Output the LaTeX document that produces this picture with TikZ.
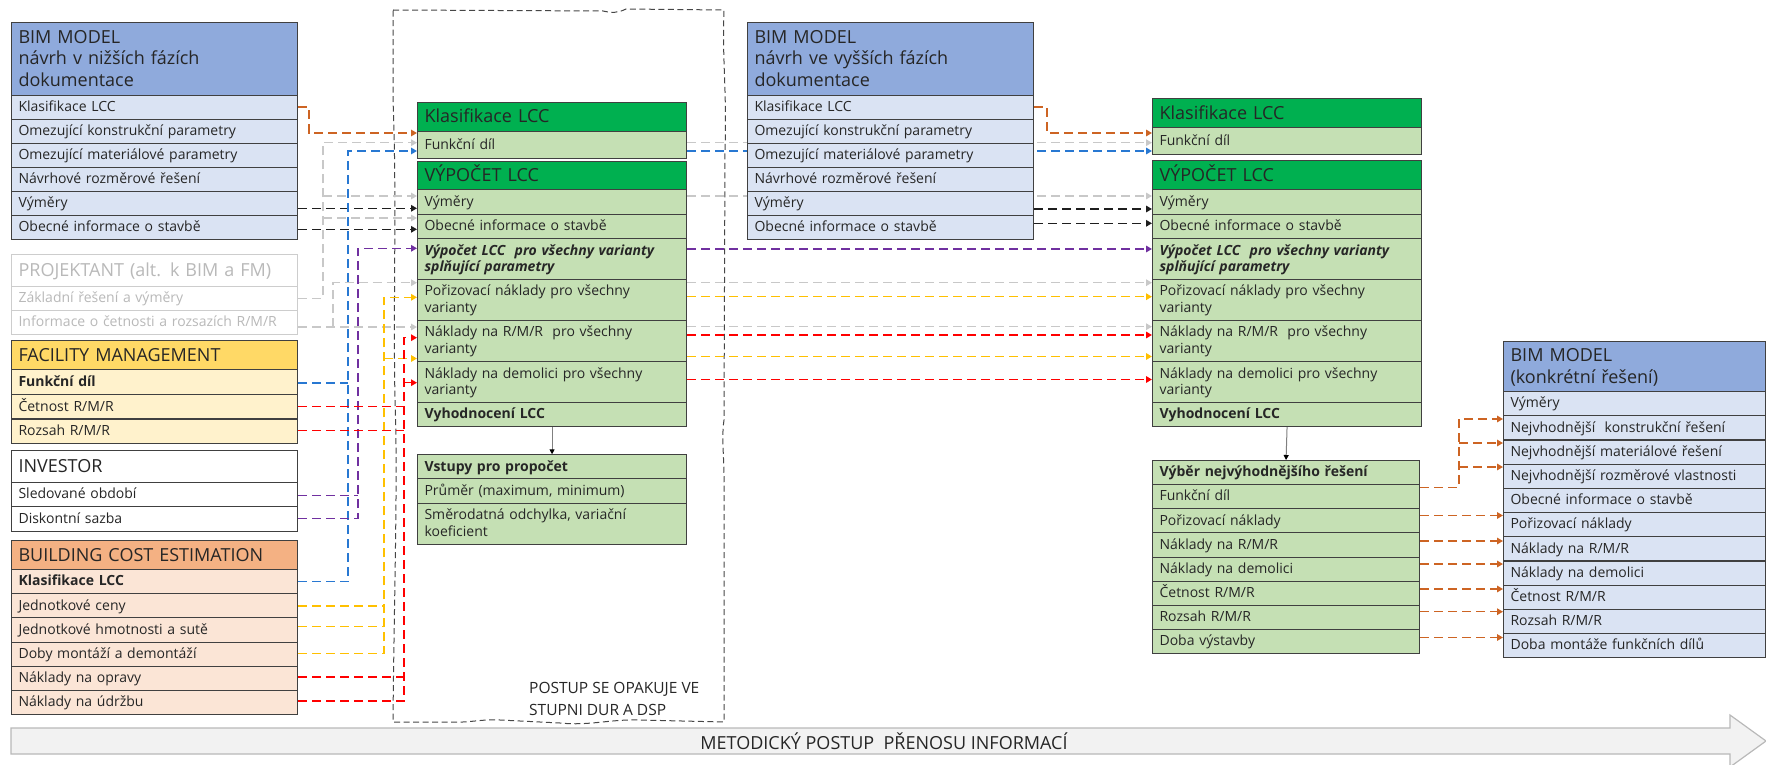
\documentclass[tikz,border=0pt]{standalone}
\usepackage{fontspec}
\setmainfont{Open Sans}
\usetikzlibrary{arrows.meta,backgrounds}

\definecolor{bimhead}{RGB}{143,170,220}
\definecolor{bimrow}{RGB}{218,227,243}
\definecolor{ghead}{RGB}{0,176,80}
\definecolor{grow}{RGB}{197,224,180}
\definecolor{fmhead}{RGB}{255,217,102}
\definecolor{fmrow}{RGB}{255,242,204}
\definecolor{bcehead}{RGB}{244,177,131}
\definecolor{bcerow}{RGB}{251,229,214}
\definecolor{boxline}{RGB}{64,64,64}
\definecolor{ink}{RGB}{38,38,38}
\definecolor{projline}{RGB}{205,205,205}
\definecolor{projtext}{RGB}{185,185,185}
\definecolor{framec}{RGB}{70,70,70}
\definecolor{bandfill}{RGB}{242,242,242}
\definecolor{bandline}{RGB}{185,185,185}
\definecolor{cOr}{RGB}{205,100,35}
\definecolor{cGr}{RGB}{200,200,200}
\definecolor{cBl}{RGB}{40,120,210}
\definecolor{cPu}{RGB}{112,48,160}
\definecolor{cYe}{RGB}{255,192,0}
\definecolor{cRe}{RGB}{255,0,0}
\definecolor{cBk}{RGB}{30,30,30}

\newcommand\bodyf{\fontsize{14}{16.5}\selectfont}
\newcommand\headf{\fontsize{18}{21.7}\selectfont}
\newcommand\notef{\fontsize{15.5}{21.7}\selectfont}
\newcommand\bandf{\fontsize{18}{21.7}\selectfont}

\begin{document}
\begin{tikzpicture}[x=1pt,y=-1pt,
  base/.style={draw=boxline, line width=1.1pt, anchor=north west, inner xsep=7pt,
    inner ysep=0pt, align=left, text=ink},
  cell/.style={base, font=\bodyf,
    execute at begin node={\rule{0pt}{12.5pt}},
    execute at end node={\rule[-3.9pt]{0pt}{3.9pt}}},
  hd/.style={base, font=\headf,
    execute at begin node={\rule{0pt}{16.1pt}},
    execute at end node={\rule[-3.9pt]{0pt}{3.9pt}}},
  colL/.style={minimum width=286pt, text width=272pt},
  colG/.style={minimum width=269pt, text width=255pt},
  colS/.style={minimum width=267pt, text width=253pt},
  colK/.style={minimum width=262pt, text width=248pt},
  bimH/.style={hd, colL, fill=bimhead},
  bimR/.style={cell, colL, fill=bimrow},
  projH/.style={hd, colL, fill=white, draw=projline, text=projtext},
  projR/.style={cell, colL, fill=white, draw=projline, text=projtext},
  fmH/.style={hd, colL, fill=fmhead},
  fmR/.style={cell, colL, fill=fmrow},
  invH/.style={hd, colL, fill=white},
  invR/.style={cell, colL, fill=white},
  bceH/.style={hd, colL, fill=bcehead},
  bceR/.style={cell, colL, fill=bcerow},
  gH/.style={hd, colG, fill=ghead},
  gR/.style={cell, colG, fill=grow},
  sR/.style={cell, colS, fill=grow},
  kH/.style={hd, colK, fill=bimhead},
  kR/.style={cell, colK, fill=bimrow},
  con/.style={line width=1.5pt, dash pattern=on 9pt off 5pt},
  tip/.style={-{Triangle[length=6pt,width=6.5pt]}},
  vline/.style={draw=gray, line width=1pt, -{Triangle[length=5pt,width=5pt,color=black]}},
  framepath/.style={draw=framec, line width=1pt, dash pattern=on 6pt off 3.5pt},
]
\useasboundingbox (0,0) rectangle (1766,765);

% ---------- methodical flow band ----------
\draw[fill=bandfill, draw=bandline, line width=1.2pt]
  (11,728) -- (1730,728) -- (1730,715) -- (1766,741) -- (1730,767) -- (1730,754) -- (11,754) -- cycle;
\node[font=\bandf, text=ink] (band) at (884,741) {METODICKÝ POSTUP\ \ PŘENOSU INFORMACÍ};

% ---------- repeated stage frame ----------
\draw[framepath] (393,10) -- (603,11) .. controls (612,13) and (618,13) .. (626,9) -- (724,10)
  .. controls (722,60) and (727,90) .. (725,150) -- (724,420)
  .. controls (721,440) and (725,460) .. (724,500) -- (724,722)
  -- (640,720) .. controls (610,719) and (590,726) .. (560,723)
  -- (500,720) .. controls (480,719) and (470,723) .. (450,722) -- (393,722)
  .. controls (394,600) and (398,480) .. (395,400)
  .. controls (393,300) and (397,200) .. (393,100) -- cycle;
\node[font=\notef, text=ink, align=left, anchor=north west, inner sep=0pt] (postup) at (529,682)
  {POSTUP SE OPAKUJE VE\\STUPNI DUR A DSP};

% ---------- left column: sources ----------
\node[bimH, minimum height=72.7pt] (lbH) at (11,22) {BIM MODEL\\návrh v nižších fázích\\dokumentace};
\node[bimR, minimum height=24pt] (lbK)  at (11,94.7)  {Klasifikace LCC};
\node[bimR, minimum height=24pt] (lbKo) at (11,118.7) {Omezující konstrukční parametry};
\node[bimR, minimum height=24pt] (lbM)  at (11,142.7) {Omezující materiálové parametry};
\node[bimR, minimum height=24pt] (lbN)  at (11,166.7) {Návrhové rozměrové řešení};
\node[bimR, minimum height=24pt] (lbV)  at (11,190.7) {Výměry};
\node[bimR, minimum height=24pt] (lbO)  at (11,214.7) {Obecné informace o stavbě};

\node[projH, minimum height=32pt] (lpH) at (11,254) {PROJEKTANT (alt. k BIM a FM)};
\node[projR, minimum height=24pt] (lpZ) at (11,286) {Základní řešení a výměry};
\node[projR, minimum height=24pt] (lpI) at (11,310) {Informace o četnosti a rozsazích R/M/R};

\node[fmH, minimum height=29pt]   (lfH) at (11,340)   {FACILITY MANAGEMENT};
\node[fmR, minimum height=24.7pt] (lfF) at (11,369)   {\textbf{Funkční díl}};
\node[fmR, minimum height=24.7pt] (lfC) at (11,393.7) {Četnost R/M/R};
\node[fmR, minimum height=24.7pt] (lfR) at (11,418.4) {Rozsah R/M/R};

\node[invH, minimum height=31.7pt] (liH) at (11,450)   {INVESTOR};
\node[invR, minimum height=24.5pt] (liS) at (11,481.7) {Sledované období};
\node[invR, minimum height=24.5pt] (liD) at (11,506.2) {Diskontní sazba};

\node[bceH, minimum height=29pt]    (lcH)  at (11,540)    {BUILDING COST ESTIMATION};
\node[bceR, minimum height=24.17pt] (lcK)  at (11,569)    {\textbf{Klasifikace LCC}};
\node[bceR, minimum height=24.17pt] (lcJ)  at (11,593.17) {Jednotkové ceny};
\node[bceR, minimum height=24.17pt] (lcJh) at (11,617.33) {Jednotkové hmotnosti a sutě};
\node[bceR, minimum height=24.17pt] (lcDm) at (11,641.5)  {Doby montáží a demontáží};
\node[bceR, minimum height=24.17pt] (lcO)  at (11,665.67) {Náklady na opravy};
\node[bceR, minimum height=24.17pt] (lcU)  at (11,689.83) {Náklady na údržbu};

% ---------- first LCC calculation ----------
\node[gH, minimum height=29pt] (mgH) at (417,101.7) {Klasifikace LCC};
\node[gR, minimum height=27pt] (mgF) at (417,130.7) {Funkční díl};
\node[gH, minimum height=28.6pt] (mvH) at (417,160.7) {VÝPOČET LCC};
\node[gR, minimum height=24.7pt] (mvV) at (417,189.3) {Výměry};
\node[gR, minimum height=24pt]   (mvO) at (417,214)   {Obecné informace o stavbě};
\node[gR, minimum height=41pt]   (mvX) at (417,238)   {{\bfseries\itshape Výpočet LCC\ \ pro všechny varianty\\splňující parametry}};
\node[gR, minimum height=40.7pt] (mvP) at (417,279)   {Pořizovací náklady pro všechny\\varianty};
\node[gR, minimum height=41.3pt] (mvR) at (417,319.7) {Náklady na R/M/R\ \ pro všechny\\varianty};
\node[gR, minimum height=41pt]   (mvD) at (417,361)   {Náklady na demolici pro všechny\\varianty};
\node[gR, minimum height=24pt]   (mvE) at (417,402)   {\textbf{Vyhodnocení LCC}};

\node[gR, minimum height=24pt]   (msH) at (417,454.3) {\textbf{Vstupy pro propočet}};
\node[gR, minimum height=24.4pt] (msA) at (417,478.3) {Průměr (maximum, minimum)};
\node[gR, minimum height=41pt]   (msB) at (417,502.7) {Směrodatná odchylka, variační\\koeficient};

% ---------- BIM model, later design stages ----------
\node[bimH, minimum height=72.7pt] (mbH) at (747,22) {BIM MODEL\\návrh ve vyšších fázích\\dokumentace};
\node[bimR, minimum height=24pt] (mbK)  at (747,94.7)  {Klasifikace LCC};
\node[bimR, minimum height=24pt] (mbKo) at (747,118.7) {Omezující konstrukční parametry};
\node[bimR, minimum height=24pt] (mbM)  at (747,142.7) {Omezující materiálové parametry};
\node[bimR, minimum height=24pt] (mbN)  at (747,166.7) {Návrhové rozměrové řešení};
\node[bimR, minimum height=24pt] (mbV)  at (747,190.7) {Výměry};
\node[bimR, minimum height=24pt] (mbO)  at (747,214.7) {Obecné informace o stavbě};

% ---------- second LCC calculation ----------
\node[gH, minimum height=29pt] (rgH) at (1152,98.3)  {Klasifikace LCC};
\node[gR, minimum height=27pt] (rgF) at (1152,127.3) {Funkční díl};
\node[gH, minimum height=29pt]   (rvH) at (1152,160.3) {VÝPOČET LCC};
\node[gR, minimum height=24.7pt] (rvV) at (1152,189.3) {Výměry};
\node[gR, minimum height=24pt]   (rvO) at (1152,214)   {Obecné informace o stavbě};
\node[gR, minimum height=41pt]   (rvX) at (1152,238)   {{\bfseries\itshape Výpočet LCC\ \ pro všechny varianty\\splňující parametry}};
\node[gR, minimum height=40.7pt] (rvP) at (1152,279)   {Pořizovací náklady pro všechny\\varianty};
\node[gR, minimum height=41.3pt] (rvR) at (1152,319.7) {Náklady na R/M/R\ \ pro všechny\\varianty};
\node[gR, minimum height=41pt]   (rvD) at (1152,361)   {Náklady na demolici pro všechny\\varianty};
\node[gR, minimum height=24pt]   (rvE) at (1152,402)   {\textbf{Vyhodnocení LCC}};

\node[sR, minimum height=24pt]    (rsH) at (1152,460)    {\textbf{Výběr nejvýhodnějšího řešení}};
\node[sR, minimum height=24.17pt] (rsF) at (1152,484)    {Funkční díl};
\node[sR, minimum height=24.17pt] (rsP) at (1152,508.17) {Pořizovací náklady};
\node[sR, minimum height=24.17pt] (rsR) at (1152,532.33) {Náklady na R/M/R};
\node[sR, minimum height=24.17pt] (rsD) at (1152,556.5)  {Náklady na demolici};
\node[sR, minimum height=24.17pt] (rsC) at (1152,580.67) {Četnost R/M/R};
\node[sR, minimum height=24.17pt] (rsZ) at (1152,604.83) {Rozsah R/M/R};
\node[sR, minimum height=24.17pt] (rsB) at (1152,629)    {Doba výstavby};

% ---------- BIM model, chosen solution ----------
\node[kH, minimum height=50.3pt] (rkH) at (1503,340.7) {BIM MODEL\\(konkrétní řešení)};
\node[kR, minimum height=24.2pt] (rk1)  at (1503,391)   {Výměry};
\node[kR, minimum height=24.2pt] (rk2)  at (1503,415.2) {Nejvhodnější\ \ konstrukční řešení};
\node[kR, minimum height=24.2pt] (rk3)  at (1503,439.4) {Nejvhodnější materiálové řešení};
\node[kR, minimum height=24.2pt] (rk4)  at (1503,463.6) {Nejvhodnější rozměrové vlastnosti};
\node[kR, minimum height=24.2pt] (rk5)  at (1503,487.8) {Obecné informace o stavbě};
\node[kR, minimum height=24.2pt] (rk6)  at (1503,512)   {Pořizovací náklady};
\node[kR, minimum height=24.2pt] (rk7)  at (1503,536.2) {Náklady na R/M/R};
\node[kR, minimum height=24.2pt] (rk8)  at (1503,560.4) {Náklady na demolici};
\node[kR, minimum height=24.2pt] (rk9)  at (1503,584.6) {Četnost R/M/R};
\node[kR, minimum height=24.2pt] (rk10) at (1503,608.8) {Rozsah R/M/R};
\node[kR, minimum height=24.2pt] (rk11) at (1503,633)   {Doba montáže funkčních dílů};

% ---------- junction points ----------
\coordinate (oL) at (309,133);
\coordinate (gA) at (323,142.7);
\coordinate (gA2) at (323,196);
\coordinate (gA3) at (323,218);
\coordinate (gB) at (333,327);
\coordinate (bJ) at (348,151);
\coordinate (bJ2) at (348,383);
\coordinate (pJ) at (358,248.3);
\coordinate (pJ2) at (358,495.7);
\coordinate (yJ) at (384,297.3);
\coordinate (yJ2) at (384,358.5);
\coordinate (yJ3) at (384,606);
\coordinate (yJ4) at (384,626.7);
\coordinate (rJ) at (404,337.7);
\coordinate (rJ2) at (404,382.7);
\coordinate (rJ3) at (404,406.7);
\coordinate (rJ4) at (404,430.5);
\coordinate (rJ5) at (404,677);
\coordinate (oR) at (1047,133);
\coordinate (oK) at (1459,419);
\coordinate (oK2) at (1459,443);
\coordinate (oK3) at (1459,467);

% ---------- connectors running behind the BIM model box ----------
\begin{scope}[on background layer]
\draw[con, cGr, tip] (mgF.east |- gA) -- (rgF.west |- gA);
\draw[con, cBl, tip] (mgF.east |- bJ) -- (rgF.west |- bJ);
\draw[con, cGr, tip] (mvV.east |- gA2) -- (rvV.west |- gA2);
\end{scope}

% ---------- connectors into the first calculation ----------
\draw[con, cOr, tip] (lbK.east) -| (oL) -- (mgF.west |- oL);
\draw[con, cGr, tip] (lpZ.east) -| (gA) -- (mgF.west |- gA);
\draw[con, cGr, tip] (gA2) -- (mvV.west |- gA2);
\draw[con, cGr, tip] (gA3) -- (mvO.west |- gA3);
\draw[con, cGr, tip] (lpI.east |- gB) -- (mvR.west |- gB);
\draw[con, cGr, tip] (gB) |- (mvP.west |- 0,282.7);
\draw[con, cBk, tip] (lbV.east |- 0,208.3) -- (mvV.west |- 0,208.3);
\draw[con, cBk, tip] (lbO.east |- 0,229.3) -- (mvO.west |- 0,229.3);
\draw[con, cBl, tip] (lcK.east) -| (bJ) -- (mgF.west |- bJ);
\draw[con, cBl] (lfF.east |- bJ2) -- (bJ2);
\draw[con, cPu, tip] (liD.east |- 0,518.3) -| (pJ) -- (mvX.west |- pJ);
\draw[con, cPu] (liS.east |- pJ2) -- (pJ2);
\draw[con, cYe, tip] (lcDm.east |- 0,653.5) -| (yJ) -- (mvP.west |- yJ);
\draw[con, cYe] (lcJ.east |- yJ3) -- (yJ3);
\draw[con, cYe] (lcJh.east |- yJ4) -- (yJ4);
\draw[con, cYe, tip] (yJ2) -- (mvR.west |- yJ2);
\draw[con, cRe, tip] (lcU.east |- 0,701) -| (rJ) -- (mvR.west |- rJ);
\draw[con, cRe] (lcO.east |- rJ5) -- (rJ5);
\draw[con, cRe] (lfC.east |- rJ3) -- (rJ3);
\draw[con, cRe] (lfR.east |- rJ4) -- (rJ4);
\draw[con, cRe, tip] (rJ2) -- (mvD.west |- rJ2);

% ---------- connectors into the second calculation ----------
\draw[con, cOr, tip] (mbK.east) -| (oR) -- (rgF.west |- oR);
\draw[con, cBk, tip] (mbV.east |- 0,209) -- (rvV.west |- 0,209);
\draw[con, cBk, tip] (mbO.east |- 0,223.3) -- (rvO.west |- 0,223.3);
\draw[con, cPu, tip] (mvX.east |- 0,249) -- (rvX.west |- 0,249);
\draw[con, cGr, tip] (mvP.east |- 0,282.7) -- (rvP.west |- 0,282.7);
\draw[con, cYe, tip] (mvP.east |- 0,296.7) -- (rvP.west |- 0,296.7);
\draw[con, cGr, tip] (mvR.east |- 0,326.7) -- (rvR.west |- 0,326.7);
\draw[con, cRe, tip] (mvR.east |- 0,335) -- (rvR.west |- 0,335);
\draw[con, cYe, tip] (mvR.east |- 0,356.5) -- (rvR.west |- 0,356.5);
\draw[con, cRe, tip] (mvD.east |- 0,379.5) -- (rvD.west |- 0,379.5);

% ---------- evaluation steps ----------
\draw[vline] (mvE.south) -- (msH.north);
\draw[vline] (rvE.south) -- (rsH.north);

% ---------- transfer of the chosen solution ----------
\draw[con, cOr, tip] (rsF.east |- 0,487.3) -| (oK) -- (rk2.west |- oK);
\draw[con, cOr, tip] (oK2) -- (rk3.west |- oK2);
\draw[con, cOr, tip] (oK3) -- (rk4.west |- oK3);
\draw[con, cOr, tip] (rsP.east |- 0,515.5) -- (rk6.west |- 0,515.5);
\draw[con, cOr, tip] (rsR.east |- 0,541) -- (rk7.west |- 0,541);
\draw[con, cOr, tip] (rsD.east |- 0,564) -- (rk8.west |- 0,564);
\draw[con, cOr, tip] (rsC.east |- 0,589) -- (rk9.west |- 0,589);
\draw[con, cOr, tip] (rsZ.east |- 0,611.7) -- (rk10.west |- 0,611.7);
\draw[con, cOr, tip] (rsB.east |- 0,637.5) -- (rk11.west |- 0,637.5);
\end{tikzpicture}
\end{document}
